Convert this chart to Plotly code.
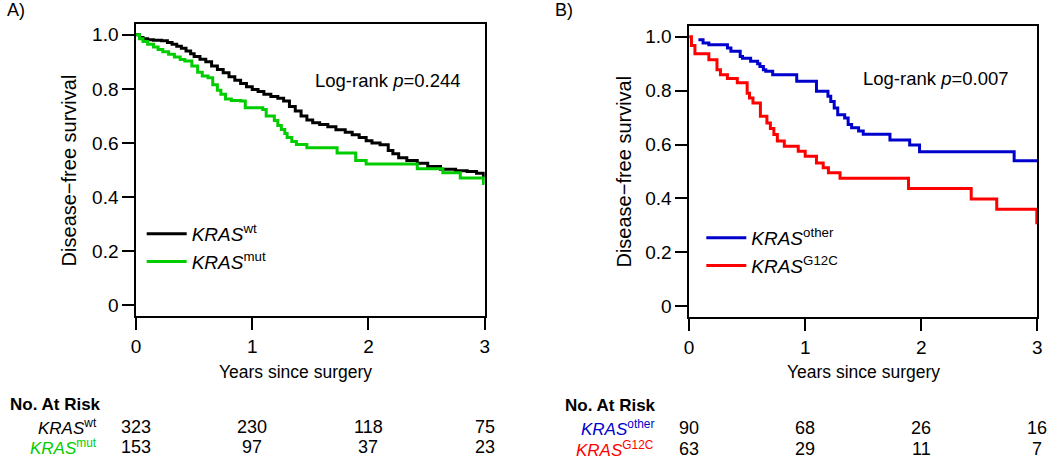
import plotly.graph_objects as go

# ---------------- data ----------------
wt_t = [0, 0.03, 0.06, 0.10, 0.15, 0.22, 0.27, 0.31, 0.35, 0.39, 0.43, 0.47, 0.50, 0.55,
        0.60, 0.65, 0.70, 0.75, 0.80, 0.85, 0.90, 0.95, 1.00, 1.05, 1.10, 1.16, 1.22, 1.27,
        1.32, 1.37, 1.42, 1.47, 1.52, 1.58, 1.65, 1.72, 1.80, 1.86, 1.92, 1.98, 2.03, 2.10,
        2.17, 2.21, 2.26, 2.33, 2.42, 2.51, 2.62, 2.75, 2.85, 2.93, 2.99, 3.0]
wt_s = [1.0, 0.99, 0.985, 0.982, 0.98, 0.978, 0.972, 0.965, 0.958, 0.95, 0.94, 0.93, 0.92, 0.91,
        0.90, 0.885, 0.872, 0.86, 0.845, 0.832, 0.82, 0.808, 0.798, 0.79, 0.78, 0.772, 0.765, 0.755,
        0.735, 0.718, 0.70, 0.685, 0.675, 0.668, 0.66, 0.649, 0.64, 0.63, 0.62, 0.608, 0.60, 0.593,
        0.572, 0.56, 0.545, 0.535, 0.525, 0.513, 0.503, 0.497, 0.494, 0.488, 0.474, 0.474]

mut_t = [0, 0.03, 0.06, 0.10, 0.15, 0.19, 0.23, 0.28, 0.33, 0.38, 0.42, 0.48, 0.53, 0.57,
         0.62, 0.66, 0.70, 0.73, 0.77, 0.82, 0.90, 0.94, 1.09, 1.12, 1.19, 1.22, 1.25, 1.28,
         1.30, 1.34, 1.38, 1.47, 1.73, 1.89, 1.98, 2.42, 2.64, 2.79, 2.99, 3.0]
mut_s = [1.0, 0.985, 0.975, 0.965, 0.955, 0.946, 0.937, 0.928, 0.918, 0.909, 0.903, 0.885, 0.862, 0.848,
         0.841, 0.815, 0.795, 0.78, 0.763, 0.757, 0.755, 0.73, 0.724, 0.70, 0.683, 0.665, 0.65, 0.635,
         0.62, 0.605, 0.594, 0.582, 0.563, 0.535, 0.522, 0.505, 0.49, 0.47, 0.45, 0.45]

other_t = [0.08, 0.12, 0.17, 0.33, 0.36, 0.44, 0.46, 0.53, 0.59, 0.61, 0.64, 0.66, 0.72, 0.927,
           1.097, 1.196, 1.22, 1.25, 1.28, 1.34, 1.37, 1.40, 1.46, 1.50, 1.73, 1.90, 1.985, 2.80, 3.0]
other_s = [0.989, 0.977, 0.97, 0.958, 0.946, 0.927, 0.92, 0.909, 0.90, 0.89, 0.878, 0.872, 0.859, 0.835,
           0.798, 0.779, 0.76, 0.736, 0.711, 0.699, 0.674, 0.662, 0.65, 0.638, 0.617, 0.598, 0.573, 0.54, 0.54]

g12c_t = [0, 0.02, 0.05, 0.17, 0.24, 0.27, 0.33, 0.415, 0.50, 0.52, 0.55, 0.614, 0.67, 0.70,
          0.73, 0.76, 0.82, 0.94, 1.0, 1.097, 1.155, 1.20, 1.30, 1.89, 2.43, 2.65, 2.995, 3.0]
g12c_s = [1.0, 0.968, 0.937, 0.915, 0.878, 0.859, 0.845, 0.829, 0.79, 0.773, 0.754, 0.705, 0.68, 0.66,
          0.637, 0.613, 0.594, 0.575, 0.557, 0.532, 0.514, 0.495, 0.475, 0.437, 0.398, 0.36, 0.31, 0.31]

risk_times = [0, 1, 2, 3]
risk_wt = [323, 230, 118, 75]
risk_mut = [153, 97, 37, 23]
risk_other = [90, 68, 26, 16]
risk_g12c = [63, 29, 11, 7]

y_tickvals = [0, 0.2, 0.4, 0.6, 0.8, 1.0]
y_ticktext = ["0", "0.2", "0.4", "0.6", "0.8", "1.0"]
x_tickvals = [0, 1, 2, 3]

# ---------------- style ----------------
FONT = "Liberation Sans, Arial, Helvetica, sans-serif"
W, H = 1050, 459
C_WT, C_MUT, C_OTHER, C_G12C = "#000000", "#00CD00", "#0000CD", "#FF0000"

fig = go.Figure()
fig.add_trace(go.Scatter(x=wt_t, y=wt_s, mode="lines", line=dict(color=C_WT, width=3, shape="hv"),
                         name="<i>KRAS</i><sup>wt</sup>", xaxis="x", yaxis="y", legend="legend"))
fig.add_trace(go.Scatter(x=mut_t, y=mut_s, mode="lines", line=dict(color=C_MUT, width=3, shape="hv"),
                         name="<i>KRAS</i><sup>mut</sup>", xaxis="x", yaxis="y", legend="legend"))
fig.add_trace(go.Scatter(x=other_t, y=other_s, mode="lines", line=dict(color=C_OTHER, width=3, shape="hv"),
                         name="<i>KRAS</i><sup>other</sup>", xaxis="x2", yaxis="y2", legend="legend2"))
fig.add_trace(go.Scatter(x=g12c_t, y=g12c_s, mode="lines", line=dict(color=C_G12C, width=3, shape="hv"),
                         name="<i>KRAS</i><sup>G12C</sup>", xaxis="x2", yaxis="y2", legend="legend2"))

axis_common = dict(showline=True, mirror=True, linecolor="black", linewidth=1.5,
                   ticks="outside", ticklen=12, tickwidth=1.5, tickcolor="black",
                   showgrid=False, zeroline=False,
                   tickfont=dict(family=FONT, size=19, color="black"))

fig.update_layout(
    width=W, height=H, autosize=False,
    margin=dict(l=0, r=0, t=0, b=0),
    paper_bgcolor="white", plot_bgcolor="white",
    font=dict(family=FONT, size=18, color="black"),
    xaxis=dict(domain=[132.3 / W, 484.3 / W], range=[0, 3], tickvals=x_tickvals,
               anchor="y", **axis_common),
    yaxis=dict(domain=[1 - 316 / H, 1 - 24 / H], range=[-0.04, 1.04], tickvals=y_tickvals,
               ticktext=y_ticktext, anchor="x", **axis_common),
    xaxis2=dict(domain=[690.7 / W, 1042.3 / W], range=[0, 3], tickvals=x_tickvals,
                anchor="y2", **axis_common),
    yaxis2=dict(domain=[1 - 317 / H, 1 - 26 / H], range=[-0.04, 1.04], tickvals=y_tickvals,
                ticktext=y_ticktext, anchor="x2", **axis_common),
    legend=dict(x=138 / W, y=1 - 215 / H, xanchor="left", yanchor="top",
                bgcolor="rgba(0,0,0,0)", font=dict(family=FONT, size=19, color="black"),
                itemwidth=40, tracegroupgap=0),
    legend2=dict(x=703 / W, y=1 - 219 / H, xanchor="left", yanchor="top",
                 bgcolor="rgba(0,0,0,0)", font=dict(family=FONT, size=19, color="black"),
                 itemwidth=40, tracegroupgap=0),
    showlegend=True,
)

ann = []
def A(text, x, y, xref="paper", yref="paper", xanchor="center", yanchor="middle", size=18,
      color="black", angle=0):
    ann.append(dict(text=text, x=x, y=y, xref=xref, yref=yref, xanchor=xanchor, yanchor=yanchor,
                    showarrow=False, textangle=angle,
                    font=dict(family=FONT, size=size, color=color)))

# panel labels
A("A)", 0 / W, 1 - 10 / H, xanchor="left", size=18)
A("B)", 553 / W, 1 - 10 / H, xanchor="left", size=18)
# y-axis titles
A("Disease\u2212free survival", 65 / W, 1 - 170 / H, angle=-90, size=20)
A("Disease\u2212free survival", 624 / W, 1 - 171.5 / H, angle=-90, size=20)
# x-axis titles
A("Years since surgery", 293 / W, 1 - 372 / H, size=17.5)
A("Years since surgery", 867 / W, 1 - 372 / H, size=17.5)
# log-rank
A("Log-rank <i>p</i>=0.244", 387 / W, 1 - 80 / H, size=18.5)
A("Log-rank <i>p</i>=0.007", 940 / W, 1 - 79 / H, size=18.5)
# risk tables
A("<b>No. At Risk</b>", 3 / W, 1 - 404 / H, xanchor="left", size=17)
A("<b>No. At Risk</b>", 563 / W, 1 - 405 / H, xanchor="left", size=17)
A("<i>KRAS</i><sup>wt</sup>", 95 / W, 1 - 427 / H, xanchor="right", size=17, color=C_WT)
A("<i>KRAS</i><sup>mut</sup>", 95 / W, 1 - 447 / H, xanchor="right", size=17, color=C_MUT)
A("<i>KRAS</i><sup>other</sup>", 657 / W, 1 - 428 / H, xanchor="right", size=17, color=C_OTHER)
A("<i>KRAS</i><sup>G12C</sup>", 657 / W, 1 - 449 / H, xanchor="right", size=17, color=C_G12C)
for t, n1, n2 in zip(risk_times, risk_wt, risk_mut):
    A(str(n1), t, 1 - 427 / H, xref="x", size=18)
    A(str(n2), t, 1 - 447 / H, xref="x", size=18)
for t, n1, n2 in zip(risk_times, risk_other, risk_g12c):
    A(str(n1), t, 1 - 428 / H, xref="x2", size=18)
    A(str(n2), t, 1 - 449 / H, xref="x2", size=18)

fig.update_layout(annotations=ann)
fig.write_html("out.html", config={"displayModeBar": False},
               post_script="document.body.style.margin='0';document.body.style.padding='0';")
